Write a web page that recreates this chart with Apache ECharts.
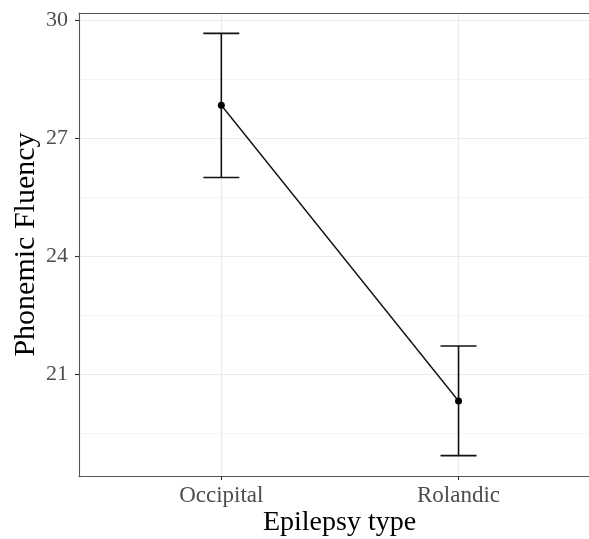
<!DOCTYPE html>
<html>
<head>
<meta charset="utf-8">
<script src="https://cdn.jsdelivr.net/npm/echarts@6/dist/echarts.min.js"></script>
<style>
  html, body { margin: 0; padding: 0; background: #fff; overflow: hidden; }
  #chart { width: 589px; height: 539px; }
</style>
</head>
<body>
<div id="chart"></div>
<script>
// Group labels and summary statistics (mean with upper/lower error limits)
const categories = ['Occipital', 'Rolandic'];
const means = [27.84, 20.31];
const upperLimits = [29.67, 21.71];
const lowerLimits = [26.0, 18.92];

// Axis ticks and grid breaks
const yTicks = [21, 24, 27, 30];
const yMinorBreaks = [19.5, 22.5, 25.5, 28.5];

const FONT = '"Liberation Serif", "DejaVu Serif", serif';

// Categories sit at positions 1..n on a continuous x scale;
// the panel runs past the right edge of the canvas
const xPos = categories.map((_, i) => i + 1);
const X_MIN = 0.4, X_MAX = 2.55;
const meanPoints = xPos.map((x, i) => [x, means[i]]);
const barData = xPos.map((x, i) => [x, lowerLimits[i], upperLimits[i]]);

const gridLineData = []
  .concat(yMinorBreaks.map(v => ({ yAxis: v, lineStyle: { type: 'solid', color: '#f0f0f0', width: 0.7 } })))
  .concat(yTicks.map(v => ({ yAxis: v, lineStyle: { type: 'solid', color: '#ebebeb', width: 1.2 } })))
  .concat(xPos.map(v => ({ xAxis: v, lineStyle: { type: 'solid', color: '#ebebeb', width: 1.2 } })));

const chart = echarts.init(document.getElementById('chart'), null, { renderer: 'canvas' });

chart.setOption({
  animation: false,
  backgroundColor: '#ffffff',
  grid: { left: 79, right: 0, top: 13, bottom: 63, show: false, containLabel: false, outerBoundsMode: 'none' },
  xAxis: [
    {
      type: 'value', min: X_MIN, max: X_MAX,
      name: 'Epilepsy type', nameLocation: 'middle', nameGap: 33, nameMoveOverlap: false,
      nameTextStyle: { fontFamily: FONT, fontSize: 28, color: '#000', padding: [0, 0, 0, 11] },
      axisLine: { show: true, onZero: false, lineStyle: { color: '#555555', width: 1.1 } },
      axisTick: { show: true, customValues: xPos, length: 4, lineStyle: { color: '#333', width: 1.1 } },
      axisLabel: {
        customValues: xPos, margin: 8, fontFamily: FONT, fontSize: 23, color: '#4d4d4d',
        formatter: v => categories[Math.round(v) - 1] || ''
      },
      splitLine: { show: false }
    },
    {
      // top edge of the panel border
      type: 'value', position: 'top', min: X_MIN, max: X_MAX,
      axisLine: { show: true, onZero: false, lineStyle: { color: '#555555', width: 1.1 } },
      axisTick: { show: false }, axisLabel: { show: false }, splitLine: { show: false }
    }
  ],
  yAxis: {
    type: 'value', min: 18.4, max: 30.19,
    name: 'Phonemic Fluency', nameLocation: 'middle', nameGap: 38, nameRotate: 90, nameMoveOverlap: false,
    nameTextStyle: { fontFamily: FONT, fontSize: 30, color: '#000' },
    axisLine: { show: true, onZero: false, lineStyle: { color: '#555555', width: 1.1 } },
    axisTick: { show: true, customValues: yTicks, length: 4, lineStyle: { color: '#333', width: 1.1 } },
    axisLabel: { customValues: yTicks, margin: 11, fontFamily: FONT, fontSize: 22, color: '#4d4d4d' },
    splitLine: { show: false }
  },
  series: [
    {
      // panel grid lines
      type: 'scatter', data: meanPoints, symbolSize: 0, silent: true, z: 0,
      markLine: {
        silent: true, symbol: 'none', label: { show: false },
        emphasis: { disabled: true }, animation: false, z: 0,
        data: gridLineData
      }
    },
    {
      type: 'custom', z: 5, silent: true,
      data: barData,
      renderItem: function (params, api) {
        const x = api.value(0);
        const top = api.coord([x, api.value(2)]);
        const bot = api.coord([x, api.value(1)]);
        const half = 18;
        const style = { stroke: '#111', lineWidth: 1.6 };
        return {
          type: 'group',
          children: [
            { type: 'line', shape: { x1: top[0], y1: top[1], x2: bot[0], y2: bot[1] }, style },
            { type: 'line', shape: { x1: top[0] - half, y1: top[1], x2: top[0] + half, y2: top[1] }, style },
            { type: 'line', shape: { x1: bot[0] - half, y1: bot[1], x2: bot[0] + half, y2: bot[1] }, style }
          ]
        };
      }
    },
    {
      type: 'line', z: 6, silent: true,
      data: meanPoints,
      symbol: 'circle', symbolSize: 7,
      itemStyle: { color: '#000', borderWidth: 0 },
      lineStyle: { color: '#111', width: 1.4 }
    }
  ]
});
</script>
</body>
</html>
